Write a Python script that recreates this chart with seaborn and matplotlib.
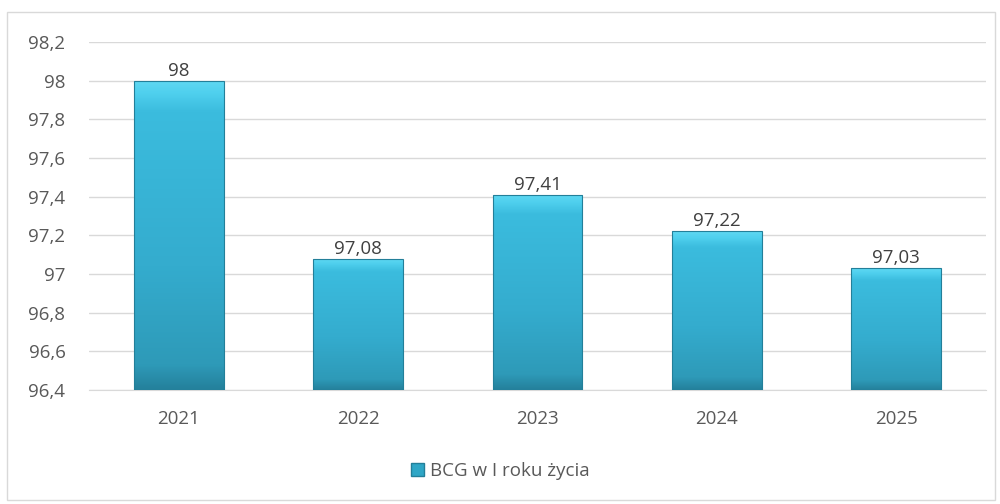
import numpy as np
import pandas as pd
import matplotlib
matplotlib.use('Agg')
import matplotlib.pyplot as plt
import seaborn as sns
from matplotlib.colors import LinearSegmentedColormap
from matplotlib.patches import Rectangle

# data
years = ['2021', '2022', '2023', '2024', '2025']
values = [98.0, 97.08, 97.41, 97.22, 97.03]
value_labels = ['98', '97,08', '97,41', '97,22', '97,03']
series_name = 'BCG w I roku życia'
yticks = [96.4, 96.6, 96.8, 97.0, 97.2, 97.4, 97.6, 97.8, 98.0, 98.2]
ytick_labels = ['96,4', '96,6', '96,8', '97', '97,2', '97,4', '97,6', '97,8', '98', '98,2']

df = pd.DataFrame({'year': years, 'value': values})

sns.set_style('white')
plt.rcParams['font.family'] = ['Open Sans', 'DejaVu Sans']
text_color = '#595959'
fs = 13.5

fig = plt.figure(figsize=(10, 5.04), dpi=100)
ax = fig.add_axes([0.089, 0.226, 0.897, 0.691])

sns.barplot(data=df, x='year', y='value', color='#36b6d8', width=0.5,
            edgecolor='#237f99', linewidth=0.8, ax=ax, zorder=3)

ax.set_ylim(96.4, 98.2)
ax.set_yticks(yticks)
ax.set_yticklabels(ytick_labels)
ax.yaxis.grid(True, color='#d9d9d9', linewidth=1, zorder=0)
ax.set_axisbelow(True)
for s in ['left', 'right', 'top']:
    ax.spines[s].set_visible(False)
ax.spines['bottom'].set_color('#d9d9d9')
ax.tick_params(axis='both', length=0, labelsize=fs, colors=text_color)
ax.tick_params(axis='y', pad=17)
ax.tick_params(axis='x', pad=14)
ax.set_xlabel('')
ax.set_ylabel('')

xlim = ax.get_xlim()
ylim = ax.get_ylim()

# vertical gradient inside the bars (darker base, bright bevelled top)
cmap = LinearSegmentedColormap.from_list(
    'bar', [(0.0, '#24809b'), (0.08, '#2e9ab8'), (0.4, '#34acce'),
            (0.9, '#3bbcde'), (0.96, '#4fd0ee'), (1.0, '#5fd8f2')])
grad = np.linspace(0, 1, 256).reshape(-1, 1)
for p in list(ax.patches):
    x0, y0 = p.get_x(), p.get_y()
    w, h = p.get_width(), p.get_height()
    im = ax.imshow(grad, cmap=cmap, aspect='auto', origin='lower',
                   extent=[x0, x0 + w, 96.4, y0 + h], zorder=3.5)
    im.set_clip_path(p)
    p.set_facecolor('none')
    p.set_zorder(4)

ax.set_xlim(xlim)
ax.set_ylim(ylim)

for i, lab in enumerate(value_labels):
    ax.text(i, values[i] + 0.005, lab, ha='center', va='bottom',
            fontsize=fs, color='#404040')

handle = Rectangle((0, 0), 1, 1, facecolor='#2fa6c6', edgecolor='#237f99')
fig.legend([handle], [series_name], loc='center', bbox_to_anchor=(0.5, 0.065),
           frameon=False, fontsize=fs, handlelength=0.7, handleheight=0.7,
           handletextpad=0.3, labelcolor=text_color)

fig.patches.append(Rectangle((0.007, 0.008), 0.988, 0.968, transform=fig.transFigure,
                             fill=False, edgecolor='#d9d9d9', linewidth=1))

fig.savefig('out.png', dpi=100)
